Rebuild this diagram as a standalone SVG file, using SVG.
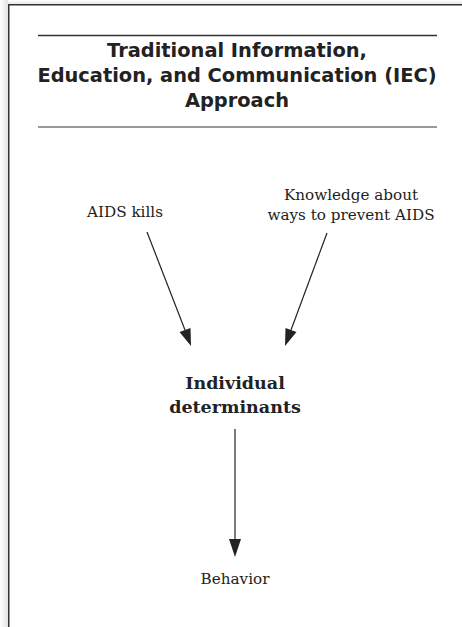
<svg xmlns="http://www.w3.org/2000/svg" width="462" height="627" viewBox="0 0 462 627">
  <defs>
    <linearGradient id="shadeL" x1="0" y1="0" x2="1" y2="0">
      <stop offset="0" stop-color="#ffffff"/>
      <stop offset="1" stop-color="#e4e4e4"/>
    </linearGradient>
    <linearGradient id="shadeT" x1="0" y1="0" x2="0" y2="1">
      <stop offset="0" stop-color="#ffffff"/>
      <stop offset="1" stop-color="#e8e8e8"/>
    </linearGradient>
    <style>
      .title { font-family: "DejaVu Sans", "Liberation Sans", sans-serif; font-weight: bold; font-size: 19.4px; fill: #222; text-anchor: middle; }
      .lbl { font-family: "DejaVu Serif", "Liberation Serif", serif; font-size: 15.2px; fill: #222; text-anchor: middle; }
      .lblb { font-family: "DejaVu Serif", "Liberation Serif", serif; font-weight: bold; font-size: 17.5px; fill: #222; text-anchor: middle; }
      .edge { stroke: #222; stroke-width: 1.2; fill: none; }
      .head { fill: #222; }
    </style>
  </defs>
  <rect x="0" y="0" width="462" height="627" fill="#ffffff"/>
  <rect x="0" y="0" width="8" height="627" fill="url(#shadeL)"/>
  <rect x="8" y="0" width="454" height="4" fill="url(#shadeT)"/>
  <path d="M8.75,627 V4.75 H462" stroke="#333" stroke-width="1.5" fill="none"/>

  <g id="title">
    <line x1="38" y1="35.5" x2="437" y2="35.5" stroke="#333" stroke-width="1.3"/>
    <text class="title" x="237" y="57">Traditional Information,</text>
    <text class="title" x="237" y="82">Education, and Communication (IEC)</text>
    <text class="title" x="237" y="107">Approach</text>
    <line x1="38" y1="127" x2="437" y2="127" stroke="#777" stroke-width="1.6"/>
  </g>

  <g id="aids-kills">
    <text class="lbl" x="125" y="217">AIDS kills</text>
  </g>
  <g id="knowledge">
    <text class="lbl" x="351" y="200">Knowledge about</text>
    <text class="lbl" x="351" y="220">ways to prevent AIDS</text>
  </g>
  <g id="individual">
    <text class="lblb" x="235" y="389">Individual</text>
    <text class="lblb" x="235" y="413">determinants</text>
  </g>
  <g id="behavior">
    <text class="lbl" x="235" y="584">Behavior</text>
  </g>

  <g id="connectors">
    <line class="edge" x1="147" y1="232" x2="185" y2="330"/>
    <polygon class="head" points="191,346 179.5,332 190.5,328"/>
    <line class="edge" x1="327" y1="233" x2="291" y2="330"/>
    <polygon class="head" points="285,346 285.5,328 296.5,332"/>
    <line class="edge" x1="235" y1="429" x2="235" y2="542"/>
    <polygon class="head" points="235,557 229,539 241,539"/>
  </g>
</svg>
